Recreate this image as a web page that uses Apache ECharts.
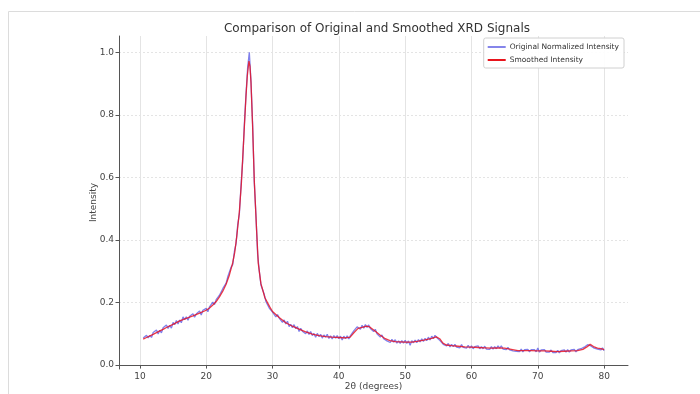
<!DOCTYPE html>
<html>
<head>
<meta charset="utf-8">
<script src="https://cdn.jsdelivr.net/npm/echarts@6/dist/echarts.min.js"></script>
<style>
  html, body { margin: 0; padding: 0; background: #fff; }
  #chart { width: 700px; height: 394px; }
</style>
</head>
<body>
<div id="chart"></div>
<script>
// Raw XRD scan: normalized intensity sampled every 0.25 degrees, 2θ = 10.5 … 80
const rawStart = 10.5;
const rawStep = 0.25;
const rawIntensity = [
  0.086, 0.080,
  0.095, 0.087, 0.095, 0.088,
  0.104, 0.098, 0.112, 0.099,
  0.111, 0.103, 0.119, 0.113,
  0.128, 0.117, 0.127, 0.118,
  0.136, 0.129, 0.142, 0.131,
  0.144, 0.135, 0.154, 0.145,
  0.154, 0.143, 0.156, 0.150,
  0.164, 0.153, 0.163, 0.159,
  0.173, 0.160, 0.175, 0.169,
  0.181, 0.170, 0.186, 0.182,
  0.201, 0.193, 0.209, 0.203,
  0.223, 0.224, 0.244, 0.240,
  0.262, 0.282, 0.283, 0.313,
  0.321, 0.363, 0.388, 0.449,
  0.483, 0.575, 0.652, 0.769,
  0.866, 0.952, 1.000, 0.907,
  0.770, 0.583, 0.478, 0.355,
  0.301, 0.256, 0.254, 0.226,
  0.203, 0.202, 0.182, 0.185,
  0.169, 0.174, 0.154, 0.161,
  0.150, 0.154, 0.136, 0.144,
  0.131, 0.140, 0.123, 0.130,
  0.119, 0.129, 0.116, 0.123,
  0.107, 0.117, 0.108, 0.114,
  0.100, 0.109, 0.098, 0.107,
  0.094, 0.101, 0.089, 0.101,
  0.091, 0.098, 0.086, 0.096,
  0.089, 0.098, 0.085, 0.093,
  0.083, 0.094, 0.086, 0.094,
  0.084, 0.092, 0.080, 0.092,
  0.084, 0.093, 0.083, 0.094,
  0.094, 0.109, 0.105, 0.122,
  0.120, 0.114, 0.127, 0.118,
  0.129, 0.120, 0.128, 0.117,
  0.120, 0.107, 0.114, 0.100,
  0.102, 0.089, 0.096, 0.084,
  0.090, 0.077, 0.083, 0.072,
  0.082, 0.073, 0.081, 0.070,
  0.077, 0.069, 0.078, 0.070,
  0.079, 0.069, 0.077, 0.063,
  0.078, 0.071, 0.080, 0.071,
  0.081, 0.074, 0.084, 0.075,
  0.085, 0.078, 0.089, 0.080,
  0.092, 0.084, 0.095, 0.088,
  0.091, 0.078, 0.079, 0.066,
  0.071, 0.061, 0.069, 0.058,
  0.066, 0.059, 0.066, 0.057,
  0.063, 0.055, 0.065, 0.056,
  0.062, 0.054, 0.063, 0.054,
  0.061, 0.052, 0.059, 0.053,
  0.061, 0.052, 0.059, 0.052,
  0.060, 0.051, 0.057, 0.050,
  0.059, 0.051, 0.059, 0.052,
  0.061, 0.054, 0.061, 0.051,
  0.057, 0.049, 0.056, 0.048,
  0.054, 0.045, 0.051, 0.044,
  0.050, 0.043, 0.051, 0.042,
  0.049, 0.043, 0.050, 0.042,
  0.049, 0.043, 0.049, 0.042,
  0.054, 0.041, 0.048, 0.042,
  0.049, 0.041, 0.047, 0.041,
  0.048, 0.040, 0.046, 0.040,
  0.047, 0.039, 0.046, 0.041,
  0.048, 0.041, 0.049, 0.041,
  0.048, 0.042, 0.050, 0.042,
  0.049, 0.044, 0.052, 0.047,
  0.057, 0.054, 0.065, 0.068,
  0.061, 0.064, 0.054, 0.060,
  0.051, 0.057, 0.048, 0.055,
  0.046
];

// Smoothed profile
const smoothTheta = [
  10.5, 11, 12, 13, 13.5, 14, 15, 16, 17, 18, 19, 20, 20.5, 21, 21.5, 22, 22.5, 23, 23.5,
  24, 24.3, 24.6, 25.0, 25.3, 25.7, 26.0, 26.2, 26.35, 26.45, 26.6, 26.75, 27.0, 27.25,
  27.6, 27.85, 28.25, 28.85, 29.6, 30, 31, 32, 33, 34, 35, 36, 37, 38, 39, 40, 41, 41.7,
  42.3, 42.9, 43.5, 44.2, 44.7, 45.5, 46.2, 47, 47.7, 48.5, 50, 51, 52, 53, 54, 54.7,
  55.2, 55.7, 56.2, 57, 58, 59, 60, 61, 62, 63, 64, 65, 66, 67, 68, 69, 70, 71, 72, 73,
  74, 75, 76, 76.8, 77.4, 77.9, 78.4, 79, 79.5, 80
];
const smoothIntensity = [
  0.083, 0.088, 0.098, 0.109, 0.114, 0.120, 0.130, 0.141, 0.149, 0.157, 0.166, 0.175, 0.182, 0.192, 0.203, 0.218, 0.236, 0.258, 0.288,
  0.327, 0.36, 0.41, 0.49, 0.58, 0.74, 0.86, 0.925, 0.955, 0.972, 0.955, 0.905, 0.76, 0.59,
  0.43, 0.325, 0.26, 0.215, 0.185, 0.171, 0.152, 0.135, 0.124, 0.115, 0.106, 0.099, 0.094, 0.091, 0.089, 0.088, 0.087, 0.089,
  0.104, 0.117, 0.120, 0.124, 0.121, 0.108, 0.096, 0.084, 0.078, 0.075, 0.073, 0.073, 0.076, 0.080, 0.085, 0.090,
  0.084, 0.070, 0.064, 0.062, 0.060, 0.058, 0.057, 0.056, 0.055, 0.054, 0.055, 0.054, 0.050, 0.046, 0.046, 0.046, 0.045, 0.045, 0.044, 0.043,
  0.044, 0.045, 0.046, 0.050, 0.058, 0.066, 0.059, 0.054, 0.052, 0.049
];

const xTicks = [10, 20, 30, 40, 50, 60, 70, 80];
const yTicks = [0.0, 0.2, 0.4, 0.6, 0.8, 1.0];

const rawData = rawIntensity.map((v, i) => [rawStart + rawStep * i, v]);
const smoothData = smoothTheta.map((t, i) => [t, smoothIntensity[i]]);

const font = 'DejaVu Sans';
const axisColor = '#555';
const labelColor = '#444';

const chart = echarts.init(document.getElementById('chart'), null, { renderer: 'canvas' });
chart.setOption({
  animation: false,
  backgroundColor: '#fff',
  graphic: [{
    type: 'rect',
    shape: { x: 8.5, y: 11.5, width: 760, height: 440 },
    style: { fill: 'none', stroke: '#dcdcdc', lineWidth: 1 },
    silent: true,
    z: -10
  }],
  title: {
    text: 'Comparison of Original and Smoothed XRD Signals',
    left: 372,
    textAlign: 'center',
    top: 18,
    textStyle: { fontFamily: font, fontSize: 12, fontWeight: 'normal', color: '#333' }
  },
  legend: {
    orient: 'vertical',
    right: 76,
    top: 38,
    padding: [5, 5, 4, 4],
    itemGap: 5,
    itemWidth: 18,
    itemHeight: 2,
    icon: 'rect',
    backgroundColor: 'rgba(255,255,255,0.9)',
    borderColor: '#d0d0d0',
    borderWidth: 1,
    borderRadius: 2,
    textStyle: { fontFamily: font, fontSize: 7.5, color: '#333', padding: [0, 0, 0, -1] },
    data: ['Original Normalized Intensity', 'Smoothed Intensity']
  },
  grid: { left: 119, right: 72, top: 36, bottom: 25, containLabel: false, outerBoundsMode: 'none' },
  xAxis: {
    type: 'value',
    min: 6.85,
    max: 83.6,
    name: '2θ (degrees)',
    nameLocation: 'middle',
    nameGap: 13,
    nameMoveOverlap: false,
    nameTextStyle: { fontFamily: font, fontSize: 9, color: labelColor },
    axisLine: { show: true, lineStyle: { color: axisColor, width: 1 } },
    axisTick: { show: true, customValues: xTicks, length: 3.5, lineStyle: { color: axisColor } },
    axisLabel: { customValues: xTicks, fontFamily: font, fontSize: 9, color: labelColor, margin: 3 },
    splitLine: { show: true, lineStyle: { color: '#e4e4e4', width: 1 } }
  },
  yAxis: {
    type: 'value',
    min: -0.0128,
    max: 1.052,
    name: 'Intensity',
    nameLocation: 'middle',
    nameGap: 21,
    nameMoveOverlap: false,
    nameTextStyle: { fontFamily: font, fontSize: 9, color: labelColor },
    axisLine: { show: true, lineStyle: { color: axisColor, width: 1 } },
    axisTick: { show: true, customValues: yTicks, length: 3.5, lineStyle: { color: axisColor } },
    axisLabel: {
      customValues: yTicks, fontFamily: font, fontSize: 9, color: labelColor, margin: 5,
      formatter: v => v.toFixed(1)
    },
    splitLine: { show: true, lineStyle: { color: '#e4e4e4', width: 1, type: [2, 2] } }
  },
  series: [
    {
      name: 'Original Normalized Intensity',
      type: 'line',
      data: rawData,
      showSymbol: false,
      symbol: 'none',
      color: '#8585ea',
      lineStyle: { color: 'rgba(60,60,225,0.65)', width: 1.3 },
      z: 2
    },
    {
      name: 'Smoothed Intensity',
      type: 'line',
      data: smoothData,
      showSymbol: false,
      symbol: 'none',
      color: '#e8141c',
      lineStyle: { color: 'rgba(230,15,30,0.82)', width: 1.3 },
      z: 3
    }
  ]
});
</script>
</body>
</html>
